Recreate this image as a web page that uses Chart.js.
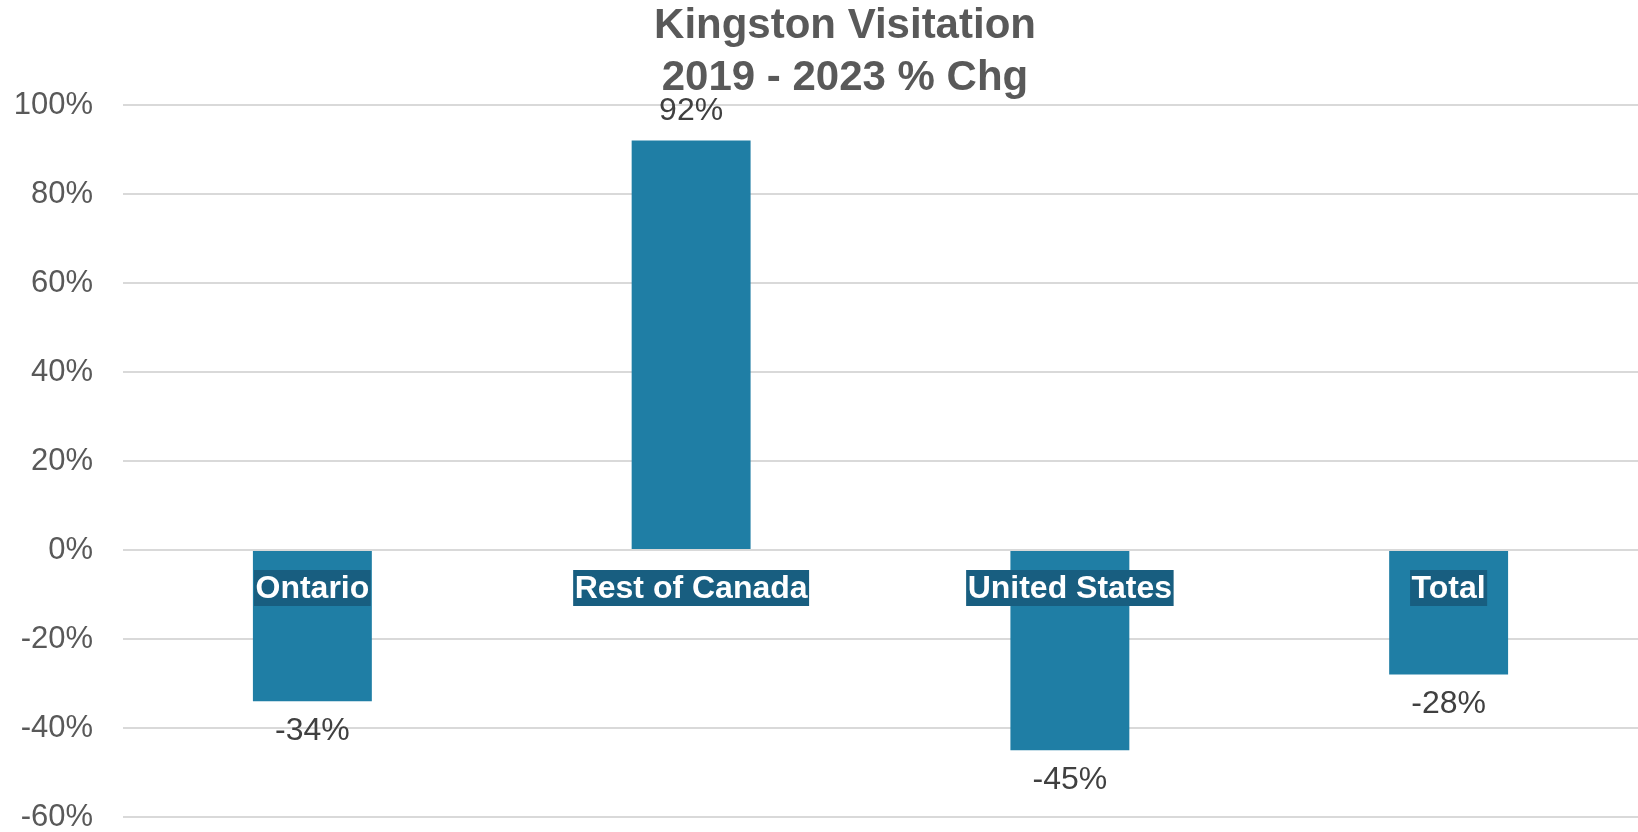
<!DOCTYPE html>
<html>
<head>
<meta charset="utf-8">
<script src="https://cdn.jsdelivr.net/npm/chart.js@4"></script>
<style>
  html, body { margin: 0; padding: 0; background: #fff; }
  #wrap { width: 1638px; height: 832px; }
</style>
</head>
<body>
<div id="wrap"><canvas id="chart"></canvas></div>
<script>
var categories = ['Ontario', 'Rest of Canada', 'United States', 'Total'];
var pctChange = [-34, 92, -45, -28];
var titleLines = ['Kingston Visitation', '2019 - 2023 % Chg'];

var fontFamily = '"Liberation Sans", Arial, sans-serif';
var barColor = '#1F7EA5';
var labelBoxColor = '#185E80';

// value labels above/below each bar, category names on a dark box below zero
var barLabels = {
	id: 'barLabels',
	afterLayout: function(chart) {
		// title sits a little right of the canvas centre in the original
		if (chart.titleBlock) {
			chart.titleBlock.left += 52;
		}
	},
	afterDatasetsDraw: function(chart) {
		var ctx = chart.ctx;
		var meta = chart.getDatasetMeta(0);
		var xScale = chart.scales.x;
		var yScale = chart.scales.y;
		var zeroY = yScale.getPixelForValue(0);

		ctx.save();
		ctx.textAlign = 'center';
		ctx.textBaseline = 'middle';

		ctx.font = '32px ' + fontFamily;
		ctx.fillStyle = '#404040';
		for (var i = 0; i < meta.data.length; i++) {
			var bar = meta.data[i];
			var v = pctChange[i];
			var y = v >= 0 ? bar.y - 29 : bar.y + 30;
			ctx.fillText(v + '%', bar.x, y);
		}

		ctx.font = 'bold 32px ' + fontFamily;
		for (var j = 0; j < categories.length; j++) {
			var x = xScale.getPixelForValue(j);
			var w = ctx.measureText(categories[j]).width + 3;
			var cy = zeroY + 38;
			ctx.fillStyle = labelBoxColor;
			ctx.fillRect(x - w / 2, cy - 18, w, 36);
			ctx.fillStyle = '#ffffff';
			ctx.fillText(categories[j], x, cy + 1);
		}
		ctx.restore();
	}
};

var ctx = document.getElementById('chart').getContext('2d');
var myChart = new Chart(ctx, {
	type: 'bar',
	data: {
		labels: categories,
		datasets: [{
			data: pctChange,
			backgroundColor: barColor,
			borderWidth: 0,
			barPercentage: 0.314,
			categoryPercentage: 1
		}]
	},
	options: {
		responsive: true,
		maintainAspectRatio: false,
		animation: false,
		layout: { padding: 0 },
		plugins: {
			legend: { display: false },
			tooltip: { enabled: false },
			title: {
				display: true,
				text: titleLines,
				color: '#595959',
				font: { family: fontFamily, size: 42, weight: 'bold', lineHeight: 1.25 },
				padding: { top: 0, bottom: 0 }
			}
		},
		scales: {
			x: {
				display: false
			},
			y: {
				min: -60,
				max: 100,
				ticks: {
					stepSize: 20,
					padding: 30,
					color: '#595959',
					font: { family: fontFamily, size: 31, lineHeight: 1 },
					callback: function(value) { return value + '%'; }
				},
				grid: {
					color: '#D9D9D9',
					lineWidth: 2,
					drawTicks: false
				},
				border: { display: false },
				afterFit: function(scale) {
					scale.width = 123;
					scale.paddingTop = 15;
					scale.paddingBottom = 15;
				}
			}
		}
	},
	plugins: [barLabels]
});
</script>
</body>
</html>
